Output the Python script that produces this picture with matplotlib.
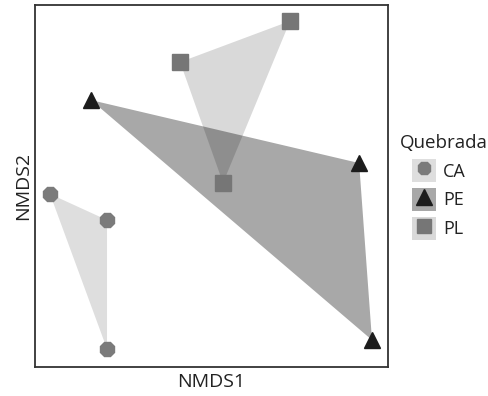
import matplotlib
matplotlib.use("Agg")
import matplotlib.pyplot as plt
from matplotlib.lines import Line2D
from matplotlib.patches import Patch

plt.rcParams["font.family"] = ["Open Sans", "DejaVu Sans"]

# ── Data (NMDS scores) ──────────────────────────────────
groups = ["CA", "PE", "PL"]
ca_x = [-0.915, -0.592, -0.592]
ca_y = [-0.044, -0.188, -0.901]
pe_x = [-0.683, 0.836, 0.909]
pe_y = [0.475, 0.127, -0.851]
pl_x = [-0.178, 0.445, 0.065]
pl_y = [0.685, 0.912, 0.017]

# ── Style ───────────────────────────────────────────────
STYLE = {
    "CA": dict(marker="8", color="#7b7b7b", hull_alpha=0.13, ms=11),
    "PE": dict(marker="^", color="#1c1c1c", hull_alpha=0.34, ms=12),
    "PL": dict(marker="s", color="#767676", hull_alpha=0.15, ms=11),
}
TEXT = "#222222"

fig = plt.figure(figsize=(4.89, 3.96), dpi=100)
ax = fig.add_axes([0.0716, 0.0732, 0.722, 0.914])

data = {"CA": (ca_x, ca_y), "PE": (pe_x, pe_y), "PL": (pl_x, pl_y)}
for g in groups:
    xs, ys = data[g]
    ax.fill(xs, ys, color="black", alpha=STYLE[g]["hull_alpha"], lw=0, zorder=1)
for g in groups:
    xs, ys = data[g]
    st = STYLE[g]
    ax.plot(xs, ys, ls="none", marker=st["marker"], ms=st["ms"],
            color=st["color"], mec=st["color"], zorder=3)

ax.set_xlim(-1, 1)
ax.set_ylim(-1, 1)
ax.set_xticks([])
ax.set_yticks([])
for s in ax.spines.values():
    s.set_color("#333333")
    s.set_linewidth(1.3)
ax.set_xlabel("NMDS1", fontsize=14, color=TEXT, labelpad=4)
ax.set_ylabel("NMDS2", fontsize=14, color=TEXT, labelpad=2)

handles = []
for g in groups:
    st = STYLE[g]
    patch = Patch(facecolor="black", alpha=st["hull_alpha"], edgecolor="none")
    mark = Line2D([], [], ls="none", marker=st["marker"], ms=st["ms"] - 1,
                  color=st["color"], mec=st["color"])
    handles.append((patch, mark))

fig.text(400 / 489, 1 - 143 / 396, "Quebrada", fontsize=13.5, color=TEXT,
         ha="left", va="center")
leg = fig.legend(handles, groups, loc="upper left",
                 bbox_to_anchor=(412 / 489, 1 - 159 / 396), frameon=False,
                 fontsize=13, handlelength=1.33, handleheight=1.6,
                 labelspacing=0.32, handletextpad=0.4, borderpad=0,
                 borderaxespad=0)
for t in leg.get_texts():
    t.set_color(TEXT)

fig.savefig("out.png", dpi=100)
